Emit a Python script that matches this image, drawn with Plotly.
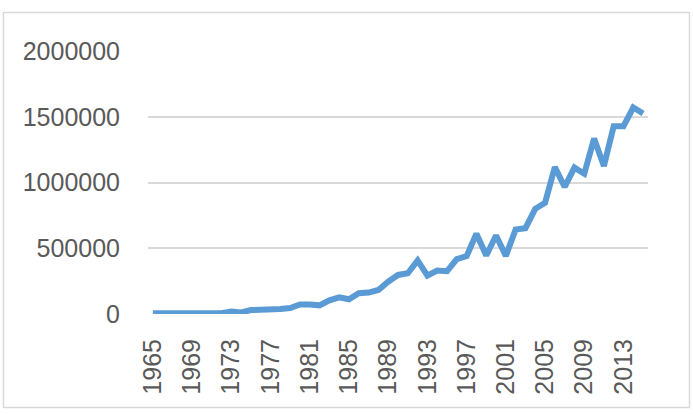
import plotly.graph_objects as go

years = list(range(1965, 2016))
values = [5000, 6000, 10000, 6000, 4000, 4000, 4000, 6000, 18000, 12000,
          30000, 30000, 33000, 38000, 45000, 72000, 72000, 66000, 104000, 127000,
          112000, 158000, 163000, 183000, 246000, 297000, 310000, 407000, 292000, 330000,
          325000, 417000, 440000, 610000, 445000, 597000, 442000, 643000, 653000, 800000,
          846000, 1118000, 966000, 1113000, 1067000, 1334000, 1126000, 1428000, 1428000, 1570000,
          1525000]
x_ticks = list(range(1965, 2016, 4))
y_ticks = [0, 500000, 1000000, 1500000, 2000000]

W, H = 693, 414
L, R, T, B = 148, 648, 51, 314

fig = go.Figure()
fig.add_trace(go.Scatter(
    x=years, y=values, mode="lines",
    line=dict(color="#5B9BD5", width=6, shape="linear"),
    hoverinfo="skip", showlegend=False,
))

def px_x(p):
    return (p - L) / (R - L)

def px_y(p):
    return (B - p) / (B - T)

fig.add_shape(type="rect", xref="paper", yref="paper",
              x0=px_x(3.5), x1=px_x(689.5), y0=px_y(407.5), y1=px_y(12.5),
              line=dict(color="#D9D9D9", width=1.5), fillcolor="rgba(0,0,0,0)", layer="below")

font = dict(family="Liberation Sans, Arial, sans-serif", size=25, color="#595959")

fig.update_layout(
    width=W, height=H,
    margin=dict(l=L, r=W - R, t=T, b=H - B, pad=0),
    paper_bgcolor="white", plot_bgcolor="white",
    font=font,
    xaxis=dict(
        range=[1964.5, 2015.5], tickmode="array", tickvals=x_ticks,
        ticktext=[str(v) for v in x_ticks], tickangle=-90,
        showgrid=False, zeroline=False, showline=False, ticks="",
        ticklabelstandoff=19, tickfont=font,
    ),
    yaxis=dict(
        range=[0, 2000000], tickmode="array", tickvals=y_ticks,
        ticktext=[str(v) for v in y_ticks],
        showgrid=True, gridcolor="#D9D9D9", gridwidth=2,
        zeroline=False, showline=False, ticks="",
        ticklabelstandoff=27, tickfont=font,
    ),
)

fig.write_html("out.html")
